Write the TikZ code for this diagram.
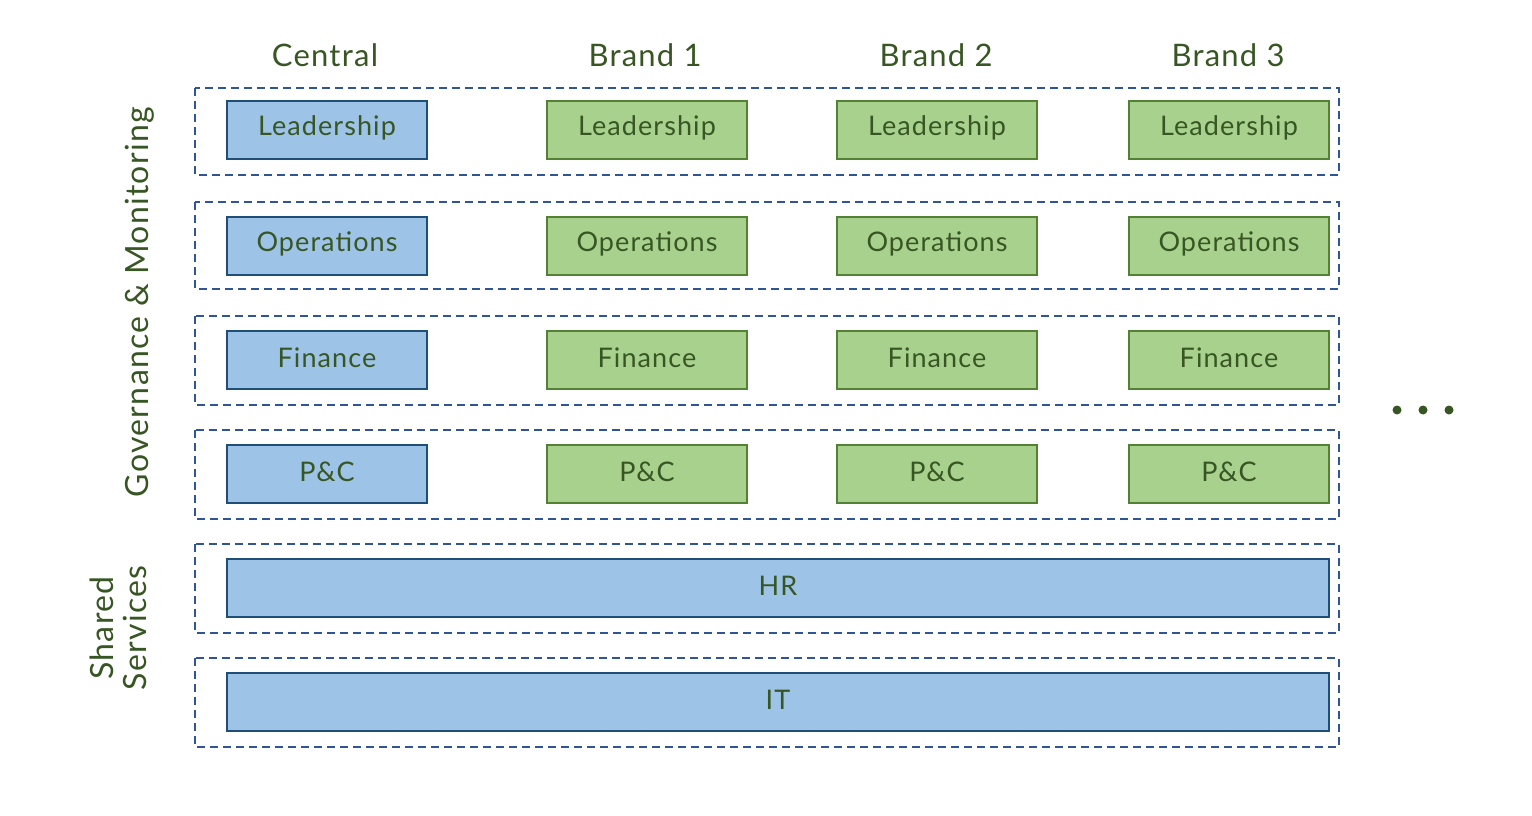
\documentclass[tikz,border=0pt]{standalone}
\usepackage{fontspec}
\setmainfont{Lato}[LetterSpace=4]
\definecolor{bfill}{HTML}{9DC3E6}
\definecolor{bline}{HTML}{1F4E79}
\definecolor{gfill}{HTML}{A9D18E}
\definecolor{gline}{HTML}{548235}
\definecolor{txt}{HTML}{375623}
\definecolor{dash}{HTML}{2F5597}
\begin{document}
\begin{tikzpicture}[x=1pt,y=-1pt,
  band/.style={draw=dash,line width=2pt,dash pattern=on 8pt off 5pt},
  bbox/.style={draw=bline,fill=bfill,line width=2pt,text=txt,font=\fontsize{27}{30}\selectfont},
  gbox/.style={draw=gline,fill=gfill,line width=2pt,text=txt,font=\fontsize{27}{30}\selectfont},
  head/.style={text=txt,font=\fontsize{31}{34}\selectfont},
  side/.style={text=txt,font=\fontsize{32}{33}\selectfont,rotate=90,align=center}]
\useasboundingbox (0,0) rectangle (1532,816);
% bands
\foreach \t/\b [count=\i] in {88/175,202/289,316/405,430/519,544/633,658/747}{
  \draw[band] (195,\t) rectangle (1339,\b);
}
% headers
\node[head] (hc) at (325,55) {Central};
\node[head] (h1) at (645,55) {Brand 1};
\node[head] (h2) at (936,55) {Brand 2};
\node[head] (h3) at (1228,55) {Brand 3};
% rows
\foreach \lab/\t/\nm in {Leadership/101/lead,Operations/217/ops,Finance/331/fin,P\&C/445/pc}{
  \path[bbox] (227,\t) rectangle ++(200,58) node[midway,yshift=2pt] (\nm c) {\lab};
  \path[gbox] (547,\t) rectangle ++(200,58) node[midway,yshift=2pt] (\nm a) {\lab};
  \path[gbox] (837,\t) rectangle ++(200,58) node[midway,yshift=2pt] (\nm b) {\lab};
  \path[gbox] (1129,\t) rectangle ++(200,58) node[midway,yshift=2pt] (\nm d) {\lab};
}
\path[bbox] (227,559) rectangle (1329,617) node[midway,yshift=2pt] (hr) {HR};
\path[bbox] (227,673) rectangle (1329,731) node[midway,yshift=2pt] (it) {IT};
% side labels
\node[side] (gov) at (140,302) {Governance \& Monitoring};
\node[side] (ss) at (118,628) {Shared\\Services};
% dots
\foreach \x [count=\i] in {1397,1423,1449}{
  \fill[txt] (\x,410) circle (4.5pt) coordinate (d\i);
}
\end{tikzpicture}
\end{document}
